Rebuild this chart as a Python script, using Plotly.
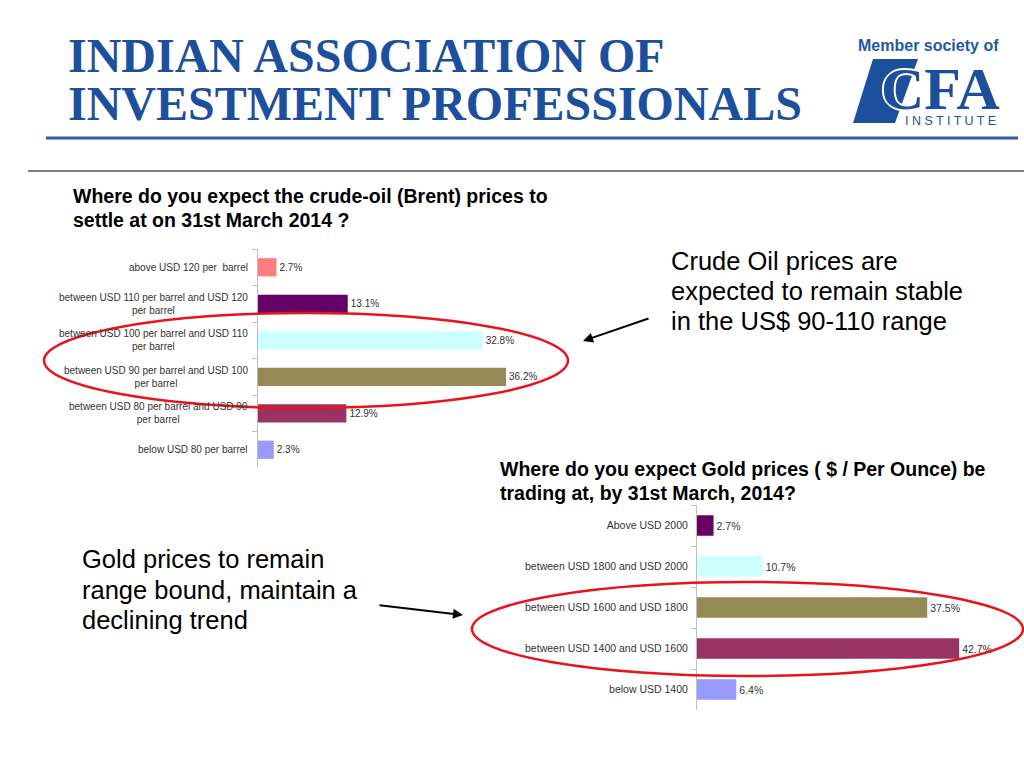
import plotly.graph_objects as go

W, H = 1024, 768

# crude oil survey
crude_labels = [
    "above USD 120 per  barrel",
    "between USD 110 per barrel and USD 120<br>per barrel",
    "between USD 100 per barrel and USD 110<br>per barrel",
    "between USD 90 per barrel and USD 100<br>per barrel",
    "between USD 80 per barrel and USD 90<br>per barrel",
    "below USD 80 per barrel",
]
crude_values = [2.7, 13.1, 32.8, 36.2, 12.9, 2.3]
crude_colors = ["#FF7F7F", "#660066", "#CCFFFF", "#948A54", "#993366", "#9999FF"]

# gold survey
gold_labels = [
    "Above USD 2000",
    "between USD 1800 and USD 2000",
    "between USD 1600 and USD 1800",
    "between USD 1400 and USD 1600",
    "below USD 1400",
]
gold_values = [2.7, 10.7, 37.5, 42.7, 6.4]
gold_colors = ["#660066", "#CCFFFF", "#948A54", "#993366", "#9999FF"]

BLUE = "#1C4F9C"


def px(x):
    return x / W


def py(y):
    return 1 - y / H


fig = go.Figure()

fig.add_trace(go.Bar(
    y=crude_labels, x=crude_values, orientation="h",
    marker=dict(color=crude_colors, line=dict(width=0)), width=0.5,
    text=[f"{v:.1f}%" for v in crude_values], textposition="outside",
    textfont=dict(size=10, color="#333333", family="Liberation Sans"),
    cliponaxis=False, xaxis="x", yaxis="y", hoverinfo="x+y",
))
fig.add_trace(go.Bar(
    y=gold_labels, x=gold_values, orientation="h",
    marker=dict(color=gold_colors, line=dict(width=0)), width=0.5,
    text=[f"{v:.1f}%" for v in gold_values], textposition="outside",
    textfont=dict(size=10.5, color="#333333", family="Liberation Sans"),
    cliponaxis=False, xaxis="x2", yaxis="y2", hoverinfo="x+y",
))

axis_common = dict(showgrid=False, zeroline=False, fixedrange=True)

annotations = []
# crude category labels, centred lines like the original
for lab in crude_labels:
    annotations.append(dict(
        x=px(250), xref="paper", y=lab, yref="y", xanchor="right", yanchor="middle",
        text=lab, showarrow=False, align="center",
        font=dict(size=10, color="#333333", family="Liberation Sans"),
    ))


def txt(x, y, s, size, color="black", bold=False, family="Liberation Sans", xanchor="left", **extra):
    if bold:
        s = f"<b>{s}</b>"
    font = dict(size=size, color=color, family=family)
    if "shadow" in extra:
        font["shadow"] = extra.pop("shadow")
    annotations.append(dict(
        x=px(x), y=py(y), xref="paper", yref="paper", xanchor=xanchor, yanchor="middle",
        text=s, showarrow=False, align="left", font=font, **extra,
    ))


# header
txt(66, 56, "INDIAN ASSOCIATION OF", 48, BLUE, True, "Liberation Serif")
txt(66, 104, "INVESTMENT PROFESSIONALS", 48, BLUE, True, "Liberation Serif")
txt(928, 45, "Member society of", 16, "#1F5AA6", True, xanchor="center")
halo = "2px 0 0 white, -2px 0 0 white, 0 2px 0 white, 0 -2px 0 white"
txt(879, 89, "CFA", 60, BLUE, True, "Liberation Serif", shadow=halo, height=50, valign="middle")
txt(950, 121, "I N S T I T U T E", 12.5, BLUE, False, xanchor="center")

# chart titles
txt(71, 196, "Where do you expect the crude-oil (Brent) prices to", 19.5, bold=True)
txt(71, 220, "settle at on 31st March 2014 ?", 19.5, bold=True)
txt(498, 469, "Where do you expect Gold prices ( $ / Per Ounce) be", 19.5, bold=True)
txt(498, 493, "trading at, by 31st March, 2014?", 19.5, bold=True)

# callouts
for i, line in enumerate(["Crude Oil prices are", "expected to remain stable", "in the US$ 90-110 range"]):
    txt(669, 261 + 30 * i, line, 25.5)
for i, line in enumerate(["Gold prices to remain", "range bound, maintain a", "declining trend"]):
    txt(80, 559 + 30.5 * i, line, 25.5)

# arrows
annotations.append(dict(
    x=px(583), y=py(341), xref="paper", yref="paper", ax=67, ay=-23, axref="pixel", ayref="pixel",
    showarrow=True, arrowhead=2, arrowsize=1, arrowwidth=2, arrowcolor="black", text="",
))
annotations.append(dict(
    x=px(463), y=py(615), xref="paper", yref="paper", ax=-85, ay=-10, axref="pixel", ayref="pixel",
    showarrow=True, arrowhead=2, arrowsize=1, arrowwidth=2, arrowcolor="black", text="",
))

shapes = [
    # header rules
    dict(type="line", xref="paper", yref="paper", x0=px(46), x1=px(1018), y0=py(138), y1=py(138),
         line=dict(color="#2F5DA9", width=3)),
    dict(type="line", xref="paper", yref="paper", x0=px(28), x1=px(1024), y0=py(171), y1=py(171),
         line=dict(color="black", width=1)),
    # CFA parallelogram
    dict(type="path", xref="paper", yref="paper",
         path=f"M {px(873)},{py(59)} L {px(918)},{py(59)} L {px(895)},{py(123)} L {px(853)},{py(123)} Z",
         fillcolor=BLUE, line=dict(width=0), layer="below"),
    # highlight ellipses
    dict(type="circle", xref="paper", yref="paper", x0=px(44), x1=px(568), y0=py(313), y1=py(408),
         line=dict(color="#E8141B", width=2.5)),
    dict(type="circle", xref="paper", yref="paper", x0=px(472), x1=px(1023), y0=py(582), y1=py(676),
         line=dict(color="#E8141B", width=2.5)),
]

fig.update_layout(
    width=W, height=H, margin=dict(l=0, r=0, t=0, b=0),
    paper_bgcolor="white", plot_bgcolor="rgba(0,0,0,0)",
    showlegend=False, bargap=0.5,
    xaxis=dict(domain=[px(258), px(560)], range=[0, (560 - 258) / 6.85], visible=False, **axis_common),
    yaxis=dict(domain=[py(468), py(249)], anchor="x", autorange="reversed",
               showticklabels=False, ticks="outside", ticklen=5, tickcolor="#BFBFBF",
               tickson="boundaries", showline=True, linecolor="#BFBFBF", linewidth=1, **axis_common),
    xaxis2=dict(domain=[px(697), px(1000)], range=[0, (1000 - 697) / 6.14], visible=False,
                anchor="y2", **axis_common),
    yaxis2=dict(domain=[py(710), py(505)], anchor="x2", autorange="reversed",
                ticks="outside", ticklen=5, tickcolor="#BFBFBF", tickson="boundaries",
                ticklabelstandoff=6,
                showline=True, linecolor="#BFBFBF", linewidth=1,
                tickfont=dict(size=10.5, color="#333333", family="Liberation Sans"), **axis_common),
    annotations=annotations, shapes=shapes,
)

# page body has a default 8px margin; drop it so the slide sits at the window corner
fig.write_html("out.html", config={"displayModeBar": False},
               post_script="document.body.style.margin='0';document.body.style.overflow='hidden';")
